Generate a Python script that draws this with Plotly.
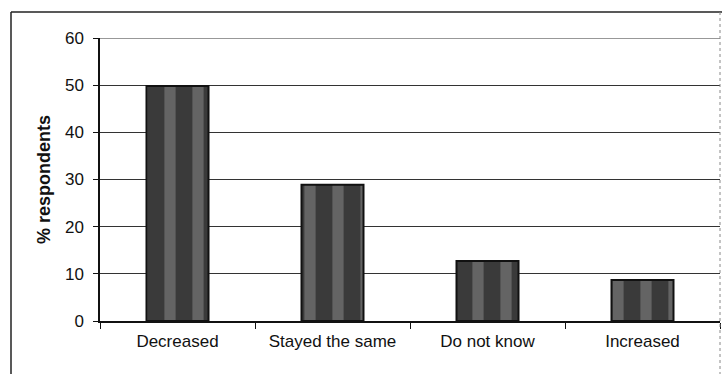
import plotly.graph_objects as go

categories = ["Decreased", "Stayed the same", "Do not know", "Increased"]
values = [49.8, 28.9, 12.7, 8.7]
y_ticks = [0, 10, 20, 30, 40, 50, 60]

W, H = 722, 374
ml, mr, mt, mb = 100, 2, 38, 53
pw, ph = W - ml - mr, H - mt - mb

fig = go.Figure()
fig.add_trace(go.Bar(
    x=categories, y=values, width=0.4,
    marker=dict(color="#3a3a3a", line=dict(color="#111111", width=2),
                pattern=dict(shape="|", fgcolor="#8e8e8e", bgcolor="#3a3a3a",
                             size=28, solidity=0.4)),
))

def px_x(x):
    return (x - ml) / pw

def px_y(y):
    return 1 - (y - mt) / ph

fig.update_layout(
    width=W, height=H,
    margin=dict(l=ml, r=mr, t=mt, b=mb, autoexpand=False),
    paper_bgcolor="white", plot_bgcolor="white",
    showlegend=False,
    font=dict(family="Liberation Sans, Arial, sans-serif", color="#111111", size=17),
    bargap=0.6,
    xaxis=dict(showline=True, linecolor="#111111", linewidth=1.5, automargin=False,
               ticks="outside", tickson="boundaries", ticklen=6, tickcolor="#111111",
               tickfont=dict(size=17), showgrid=False, ticklabelstandoff=4),
    yaxis=dict(range=[0, 60], tickvals=y_ticks, showline=True, linecolor="#111111",
               linewidth=1.5, ticks="outside", ticklen=5, tickcolor="#111111",
               showgrid=True, gridcolor="#333333", gridwidth=1, automargin=False,
               tickfont=dict(size=17), ticklabelstandoff=6,
               title=dict(text="<b>% respondents</b>", font=dict(size=18), standoff=10)),
    shapes=[
        dict(type="line", xref="paper", yref="y", x0=0, x1=1, y0=60, y1=60,
             line=dict(color="#333333", width=1)),
        dict(type="line", xref="paper", yref="paper", x0=px_x(11), x1=px_x(11),
             y0=px_y(12), y1=px_y(374), line=dict(color="#222222", width=1.5)),
        dict(type="line", xref="paper", yref="paper", x0=px_x(11), x1=px_x(722),
             y0=px_y(12), y1=px_y(12), line=dict(color="#222222", width=1.5)),
        dict(type="line", xref="paper", yref="paper", x0=px_x(720), x1=px_x(720),
             y0=px_y(12), y1=px_y(374), line=dict(color="#888888", width=1, dash="dot")),
    ],
)

fig.write_html("out.html", config={"displayModeBar": False},
               post_script="document.body.style.margin='0';document.body.style.overflow='hidden';")
